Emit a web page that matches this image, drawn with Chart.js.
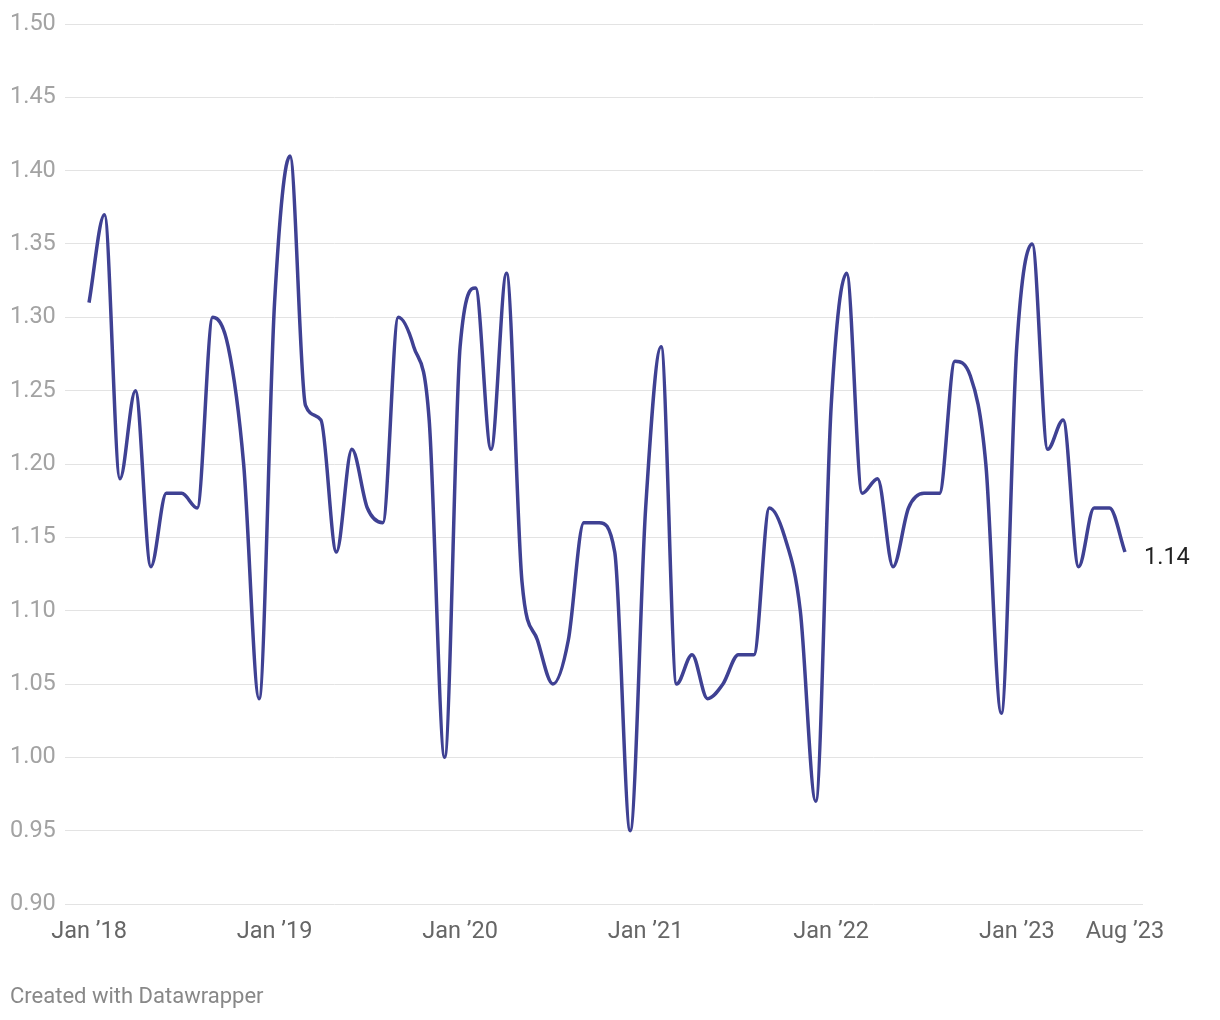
<!DOCTYPE html>
<html>
<head>
<meta charset="utf-8">
<script src="https://cdn.jsdelivr.net/npm/chart.js@4"></script>
<style>
  html, body { margin: 0; padding: 0; background: #fff; }
  #wrap { position: relative; width: 1220px; height: 1020px; }
  #footer {
    position: absolute; left: 10px; top: 983px;
    font-family: Roboto, sans-serif; font-size: 22px; color: #888;
  }
</style>
</head>
<body>
<div id="wrap">
  <canvas id="chart" width="1220" height="1020"></canvas>
  <div id="footer">Created with Datawrapper</div>
</div>
<script>
// Monthly values, Jan 2018 .. Aug 2023
const months = [
  'Jan 18','Feb 18','Mar 18','Apr 18','May 18','Jun 18','Jul 18','Aug 18','Sep 18','Oct 18','Nov 18','Dec 18',
  'Jan 19','Feb 19','Mar 19','Apr 19','May 19','Jun 19','Jul 19','Aug 19','Sep 19','Oct 19','Nov 19','Dec 19',
  'Jan 20','Feb 20','Mar 20','Apr 20','May 20','Jun 20','Jul 20','Aug 20','Sep 20','Oct 20','Nov 20','Dec 20',
  'Jan 21','Feb 21','Mar 21','Apr 21','May 21','Jun 21','Jul 21','Aug 21','Sep 21','Oct 21','Nov 21','Dec 21',
  'Jan 22','Feb 22','Mar 22','Apr 22','May 22','Jun 22','Jul 22','Aug 22','Sep 22','Oct 22','Nov 22','Dec 22',
  'Jan 23','Feb 23','Mar 23','Apr 23','May 23','Jun 23','Jul 23','Aug 23'
];
const values = [
  1.31, 1.37, 1.19, 1.25, 1.13, 1.18, 1.18, 1.17, 1.30, 1.28, 1.20, 1.04,
  1.31, 1.41, 1.24, 1.23, 1.14, 1.21, 1.17, 1.16, 1.30, 1.28, 1.23, 1.00,
  1.28, 1.32, 1.21, 1.33, 1.12, 1.08, 1.05, 1.08, 1.16, 1.16, 1.14, 0.95,
  1.17, 1.28, 1.05, 1.07, 1.04, 1.05, 1.07, 1.07, 1.17, 1.15, 1.10, 0.97,
  1.24, 1.33, 1.18, 1.19, 1.13, 1.17, 1.18, 1.18, 1.27, 1.26, 1.20, 1.03,
  1.28, 1.35, 1.21, 1.23, 1.13, 1.17, 1.17, 1.14
];
const tickIndex = [0, 12, 24, 36, 48, 60, 67];
const tickLabels = ['Jan \u201918', 'Jan \u201919', 'Jan \u201920', 'Jan \u201921', 'Jan \u201922', 'Jan \u201923', 'Aug \u201923'];

const points = values.map((v, i) => ({ x: i, y: v }));

// label for last value, right of the line end
const endLabel = {
  id: 'endLabel',
  afterDatasetsDraw(chart) {
    const meta = chart.getDatasetMeta(0);
    const last = meta.data[meta.data.length - 1];
    const ctx = chart.ctx;
    ctx.save();
    ctx.font = '23.5px Roboto';
    ctx.fillStyle = '#222';
    ctx.textAlign = 'left';
    ctx.textBaseline = 'middle';
    ctx.fillText(values[values.length - 1].toFixed(2), last.x + 19, last.y + 6);
    ctx.restore();
  }
};

new Chart(document.getElementById('chart'), {
  type: 'line',
  data: {
    datasets: [{
      data: points,
      borderColor: '#3f4193',
      borderWidth: 3.5,
      pointRadius: 0,
      fill: false,
      cubicInterpolationMode: 'monotone'
    }]
  },
  options: {
    responsive: false,
    animation: false,
    layout: { padding: { left: 10, right: 77, top: 24, bottom: 76 } },
    plugins: { legend: { display: false }, tooltip: { enabled: false } },
    scales: {
      x: {
        type: 'linear',
        min: -1.553,
        max: 68.165,
        grid: { display: false, drawTicks: false },
        border: { display: false },
        afterBuildTicks(scale) {
          scale.ticks = tickIndex.map(v => ({ value: v }));
        },
        afterFit(scale) { scale.height = 40; },
        ticks: {
          autoSkip: false,
          maxRotation: 0,
          padding: 14,
          color: '#666',
          font: { family: 'Roboto', size: 23.5 },
          callback: (v) => tickLabels[tickIndex.indexOf(v)]
        }
      },
      y: {
        min: 0.9,
        max: 1.5,
        grid: { color: '#e3e3e3', lineWidth: 1, drawTicks: false },
        border: { display: false },
        afterFit(scale) { scale.width = 55; },
        ticks: {
          stepSize: 0.05,
          crossAlign: 'far',
          padding: 8,
          color: '#a3a3a3',
          font: { family: 'Roboto', size: 23.5 },
          callback: (v) => v.toFixed(2)
        }
      }
    }
  },
  plugins: [endLabel]
});
</script>
</body>
</html>
